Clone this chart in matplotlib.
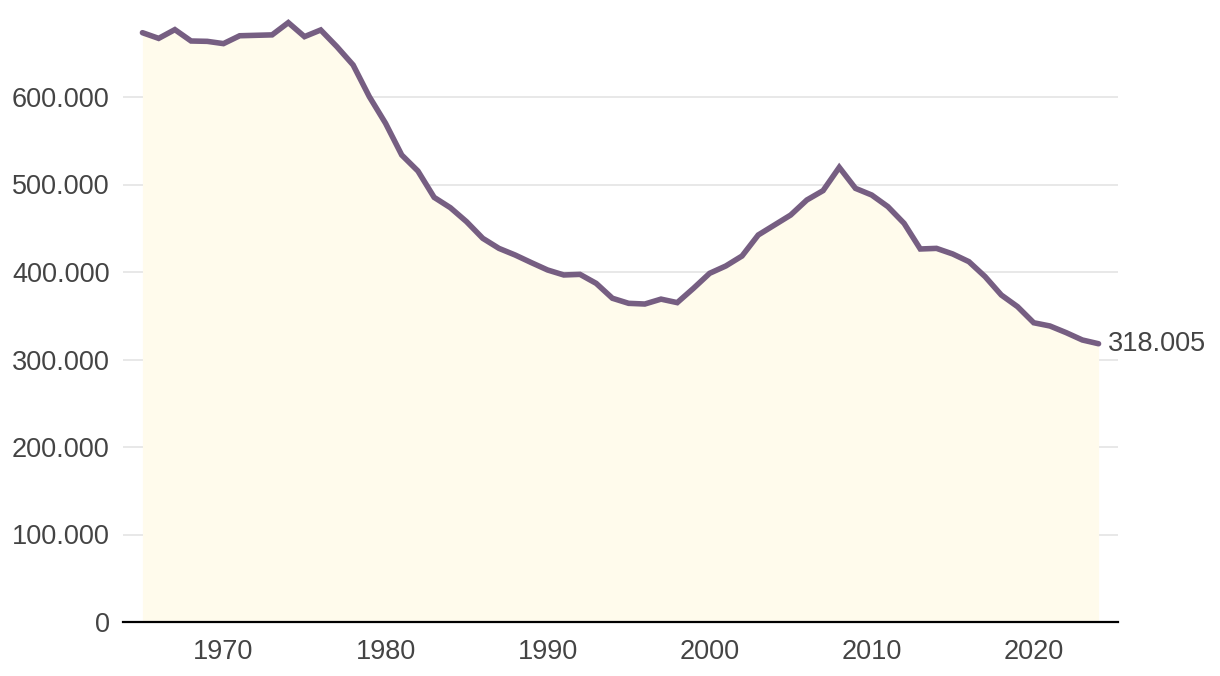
import matplotlib

matplotlib.use("Agg")
import matplotlib.pyplot as plt  # noqa: E402
from matplotlib.ticker import FuncFormatter  # noqa: E402

years = list(range(1965, 2025))
values = [
    673500, 667000, 677000, 664000, 663600, 661000, 670000, 670500, 671000, 685000,
    669000, 676600, 657500, 636600, 600400, 570000, 533700, 515400, 485300, 473500,
    457500, 438500, 427000, 419400, 410700, 402300, 396600, 397300, 387000, 370000,
    364200, 363400, 369000, 365000, 381300, 398500, 406900, 418300, 442300, 453700,
    465100, 482300, 493000, 519600, 495600, 488000, 474700, 455600, 426300, 427000,
    420600, 411800, 394700, 373700, 360400, 342000, 338300, 330700, 322300, 318005,
]
y_ticks = [0, 100000, 200000, 300000, 400000, 500000, 600000]
x_ticks = [1970, 1980, 1990, 2000, 2010, 2020]

LINE = "#765e82"
FILL = "#fffbec"
TEXT = "#444444"

plt.rcParams["font.family"] = ["Liberation Sans", "DejaVu Sans"]


def fmt(v, _pos=None):
    return f"{int(round(v)):,}".replace(",", ".")


fig = plt.figure(figsize=(12.2, 6.76), dpi=100)
ax = fig.add_axes([123 / 1220, 54 / 676, 995 / 1220, 612.5 / 676])

ax.fill_between(years, values, 0, color=FILL, lw=0, zorder=1)
ax.plot(years, values, color=LINE, lw=4.0, solid_joinstyle="miter",
        solid_capstyle="round", zorder=3)

ax.set_xlim(1963.8, 2025.2)
ax.set_ylim(0, 700000)
ax.set_xticks(x_ticks)
ax.set_yticks(y_ticks)
ax.yaxis.set_major_formatter(FuncFormatter(fmt))
ax.tick_params(axis="both", length=0, labelsize=19.5, labelcolor=TEXT)
ax.tick_params(axis="y", pad=9.5)
ax.tick_params(axis="x", pad=12)

ax.grid(axis="y", color="#e6e6e6", lw=1.3, zorder=0)
ax.set_axisbelow(True)
for side in ["top", "right", "left"]:
    ax.spines[side].set_visible(False)
ax.spines["bottom"].set_color("black")
ax.spines["bottom"].set_linewidth(1.6)
ax.spines["bottom"].set_zorder(4)

ax.annotate(fmt(values[-1]), xy=(years[-1], values[-1]), xytext=(7, 0),
            textcoords="offset points", ha="left", va="center",
            fontsize=19.5, color=TEXT, annotation_clip=False)

fig.savefig("out.png", dpi=100)
plt.close(fig)
